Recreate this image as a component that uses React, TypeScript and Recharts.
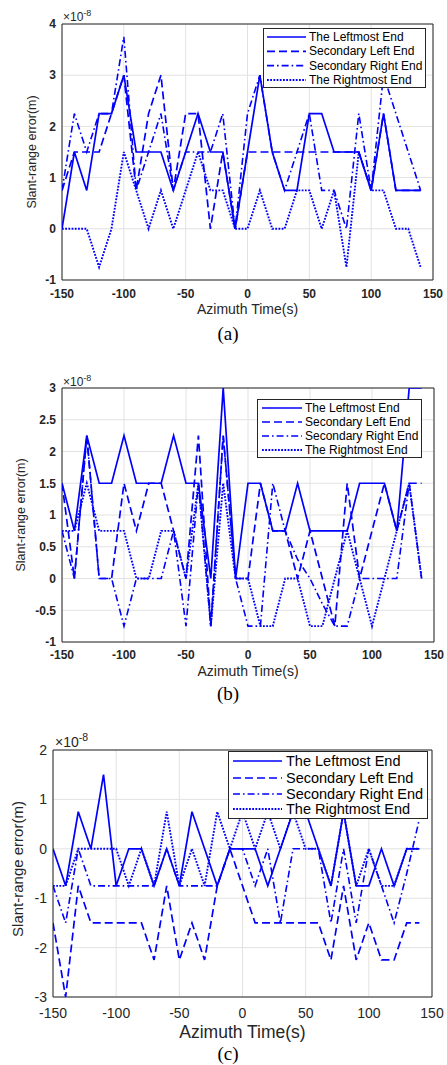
import React from 'react';
import { LineChart, Line, XAxis, YAxis, CartesianGrid, ReferenceArea, Legend } from 'recharts';

// Azimuth time samples (s)
const TIME = [-150, -140, -130, -120, -110, -100, -90, -80, -70, -60, -50, -40, -30, -20, -10, 0, 10, 20, 30, 40, 50, 60, 70, 80, 90, 100, 110, 120, 130, 140];
const X_TICKS = [-150, -100, -50, 0, 50, 100, 150];

// Slant-range error values, in units of 1e-8 m
// (a)
const A_LEFTMOST = [0, 1.5, 0.75, 2.25, 2.25, 3, 1.5, 1.5, 1.5, 0.75, 1.5, 2.25, 1.5, 1.5, 0, 1.5, 3, 1.5, 0.75, 0.75, 2.25, 2.25, 1.5, 1.5, 1.5, 0.75, 2.25, 0.75, 0.75, 0.75];
const A_SECOND_LEFT = [0.75, 1.5, 1.5, 1.5, 2.25, 3, 0.75, 2.25, 3, 0.75, 2.25, 2.25, 0, 1.5, 0, 1.5, 1.5, 1.5, 1.5, 1.5, 1.5, 1.5, 1.5, 1.5, 1.5, 0.75, 2.25, 0.75, 0.75, 0.75];
const A_SECOND_RIGHT = [0.75, 2.25, 1.5, 2.25, 2.25, 3.75, 0.75, 1.5, 2.25, 0.75, 1.5, 1.5, 1.5, 2.25, 0, 2.25, 3, 1.5, 0.75, 1.5, 2.25, 0.75, 0.75, 0, 2.25, 0.75, 3, 2.25, 1.5, 0.75];
const A_RIGHTMOST = [0, 0, 0, -0.75, 0, 1.5, 0.75, 0, 0.75, 0, 0.75, 1.5, 0.75, 0.75, 0, 0, 0.75, 0, 0, 0.75, 0.75, 0, 0.75, -0.75, 1.5, 0.75, 0.75, 0, 0, -0.75];
const A_Y_TICKS = [-1, 0, 1, 2, 3, 4];

// (b)
const B_LEFTMOST = [1.5, 0.75, 2.25, 1.5, 1.5, 2.25, 1.5, 1.5, 1.5, 2.25, 1.5, 1.5, 0, 3, 0, 1.5, 1.5, 0.75, 0.75, 1.5, 0.75, 0.75, 0.75, 0.75, 1.5, 1.5, 1.5, 0.75, 3, 3];
const B_SECOND_LEFT = [1.5, 0, 2.25, 0, 0, 1.5, 0.75, 1.5, 1.5, 0.75, 0, 2.25, -0.75, 2.25, 0, 0, 1.5, 0.75, 0.75, 0, 0.75, 0, -0.75, 1.5, 0, 0.75, 1.5, 0.75, 1.5, 1.5];
const B_SECOND_RIGHT = [0.75, 0, 2.25, 0, 0, -0.75, 0, 0, 0, 0.75, -0.75, 1.5, -0.75, 2.25, 0, -0.75, -0.75, 1.5, 0.75, 0.3, 0, -0.4, -0.75, -0.75, 0, 0, 0, 0, 1.5, 0];
const B_RIGHTMOST = [0.75, 0.75, 1.5, 0.75, 0.75, 0.75, 0, 0, 0.75, 0.75, 0, 1.5, -0.75, 1.5, 0, 0, -0.75, -0.75, 0, 0, -0.75, -0.75, 0, 0.75, 0, -0.75, 0, 0.75, 1.5, 0];
const B_Y_TICKS = [-1, -0.5, 0, 0.5, 1, 1.5, 2, 2.5, 3];

// (c)
const C_LEFTMOST = [0, -0.75, 0.75, 0, 1.5, -0.75, 0, 0, -0.75, 0, -0.75, 0.75, 0, -0.75, 0, 0, 0, -0.75, 0, 0.75, 0.75, 0, -0.75, 0.75, -0.75, -0.75, 0, -0.75, 0, 0];
const C_SECOND_LEFT = [-1.5, -3, -0.75, -1.5, -1.5, -1.5, -1.5, -1.5, -2.25, -0.75, -2.25, -1.5, -2.25, -0.75, 0, -0.75, -1.5, -1.5, -1.5, -1.5, -1.5, -1.5, -2.25, -0.75, -2.25, -1.5, -2.25, -2.25, -1.5, -1.5];
const C_SECOND_RIGHT = [-0.75, -1.5, 0, -0.75, -0.75, -0.75, -0.75, -0.75, -0.75, 0, -0.75, -0.75, -0.75, -0.75, 0, 0, -0.75, 0, -1.5, 0, 0, 0, -1.5, 0, -1.5, 0, -0.75, -1.5, -0.5, 0.6];
const C_RIGHTMOST = [-0.75, -0.75, 0, 0, 0, 0, -0.75, 0, -0.75, 0.75, -0.75, 0, -0.75, 0.75, 0, 0.75, 0, 0.75, 0, 0.75, 0, 0, -0.75, 0.75, -0.75, 0, -0.75, -0.75, 0, 0];
const C_Y_TICKS = [-3, -2, -1, 0, 1, 2];

const SERIES_NAMES = ['The Leftmost End', 'Secondary Left End', 'Secondary Right End', 'The Rightmost End'];
const SERIES_KEYS = ['leftmost', 'secLeft', 'secRight', 'rightmost'];
const DASHES: (string | undefined)[] = [undefined, '8 4', '7 3 1.6 3', '1.8 1.4'];
const WIDTHS = [1.7, 1.7, 1.6, 1.9];
const BLUE = '#0000ff';
const INK = '#262626';
const SANS = '"Liberation Sans", Arial, Helvetica, sans-serif';
const SERIF = '"Liberation Serif", "Times New Roman", serif';

type LegendCfg = { left: number; top: number; width: number; height: number; sx: number; sw: number; tx: number; rows: number[]; font: number };
type PanelCfg = {
  chartTop: number; chartHeight: number;
  plot: { left: number; right: number; top: number; bottom: number };
  series: number[][]; yDomain: [number, number]; yTicks: number[];
  tickFont: number; tickBold: boolean; xTickGap: number;
  legend: LegendCfg;
};

const PANELS: PanelCfg[] = [
  {
    chartTop: 0, chartHeight: 330,
    plot: { left: 62, right: 433, top: 24, bottom: 280 },
    series: [A_LEFTMOST, A_SECOND_LEFT, A_SECOND_RIGHT, A_RIGHTMOST],
    yDomain: [-1, 4], yTicks: A_Y_TICKS,
    tickFont: 12, tickBold: true, xTickGap: 7,
    legend: { left: 263, top: 28, width: 163, height: 60, sx: 4, sw: 39, tx: 46, rows: [9, 23.3, 37.6, 52], font: 12 },
  },
  {
    chartTop: 360, chartHeight: 330,
    plot: { left: 62, right: 434, top: 388, bottom: 642 },
    series: [B_LEFTMOST, B_SECOND_LEFT, B_SECOND_RIGHT, B_RIGHTMOST],
    yDomain: [-1, 3], yTicks: B_Y_TICKS,
    tickFont: 12, tickBold: true, xTickGap: 6,
    legend: { left: 257, top: 399, width: 165, height: 59, sx: 5, sw: 40, tx: 48, rows: [9, 23, 37, 51], font: 12 },
  },
  {
    chartTop: 720, chartHeight: 345,
    plot: { left: 53, right: 432, top: 750, bottom: 997 },
    series: [C_LEFTMOST, C_SECOND_LEFT, C_SECOND_RIGHT, C_RIGHTMOST],
    yDomain: [-3, 2], yTicks: C_Y_TICKS,
    tickFont: 14, tickBold: false, xTickGap: 9,
    legend: { left: 228, top: 751, width: 200, height: 68, sx: 5, sw: 49, tx: 58, rows: [10, 27, 43, 58], font: 14.5 },
  },
];

function LegendBox({ cfg }: { cfg: LegendCfg }) {
  return (
    <svg width={cfg.width} height={cfg.height} style={{ display: 'block' }}>
      <rect x={0.5} y={0.5} width={cfg.width - 1} height={cfg.height - 1} fill="#fff" stroke={INK} strokeWidth={1} />
      {SERIES_NAMES.map((name, i) => (
        <g key={name}>
          <line x1={cfg.sx} x2={cfg.sx + cfg.sw} y1={cfg.rows[i]} y2={cfg.rows[i]} stroke={BLUE} strokeWidth={WIDTHS[i]} strokeDasharray={DASHES[i]} />
          <text x={cfg.tx} y={cfg.rows[i]} dominantBaseline="central" fontSize={cfg.font} fontFamily={SANS} fill="#000">{name}</text>
        </g>
      ))}
    </svg>
  );
}

function Panel({ cfg }: { cfg: PanelCfg }) {
  const data = TIME.map((t, i) => ({
    t,
    leftmost: cfg.series[0][i],
    secLeft: cfg.series[1][i],
    secRight: cfg.series[2][i],
    rightmost: cfg.series[3][i],
  }));
  const yAxisW = 40;
  const xAxisH = 30;
  const margin = {
    top: cfg.plot.top - cfg.chartTop,
    right: 447 - cfg.plot.right,
    left: cfg.plot.left - yAxisW,
    bottom: cfg.chartTop + cfg.chartHeight - cfg.plot.bottom - xAxisH,
  };
  const tickStyle = { fontSize: cfg.tickFont, fontWeight: cfg.tickBold ? 'bold' : 'normal', fill: INK, fontFamily: SANS } as any;
  const lg = cfg.legend;
  return (
    <div style={{ position: 'absolute', left: 0, top: cfg.chartTop, width: 447, height: cfg.chartHeight }}>
      <LineChart width={447} height={cfg.chartHeight} data={data} margin={margin}>
        <CartesianGrid stroke="#e2e2e2" strokeWidth={1} />
        <XAxis dataKey="t" type="number" domain={[-150, 150]} ticks={X_TICKS} interval={0} allowDataOverflow
          axisLine={false} tickLine={false} tickSize={cfg.xTickGap} tickMargin={2} height={xAxisH} tick={tickStyle} />
        <YAxis type="number" domain={cfg.yDomain} ticks={cfg.yTicks} interval={0} allowDataOverflow
          axisLine={false} tickLine={false} tickSize={4} tickMargin={2} width={yAxisW} tick={tickStyle} />
        {SERIES_KEYS.map((k, i) => (
          <Line key={k} type="linear" dataKey={k} name={SERIES_NAMES[i]} stroke={BLUE} strokeWidth={WIDTHS[i]}
            strokeDasharray={DASHES[i]} dot={false} activeDot={false} isAnimationActive={false} />
        ))}
        <ReferenceArea x1={-150} x2={150} y1={cfg.yDomain[0]} y2={cfg.yDomain[1]} fill="none" fillOpacity={0}
          stroke={INK} strokeWidth={1} ifOverflow="visible" />
        <Legend layout="vertical" align="center" verticalAlign="middle"
          wrapperStyle={{ position: 'absolute', left: lg.left, top: lg.top - cfg.chartTop, width: lg.width, height: lg.height }}
          content={() => <LegendBox cfg={lg} />} />
      </LineChart>
    </div>
  );
}

const LABELS = [
  { yLabelX: 31.5, yLabelY: 152, yFont: 12.5, xLabelX: 247.5, xLabelY: 309, xFont: 14, multX: 63, multY: 21, multFont: 12, capY: 333, cap: '(a)' },
  { yLabelX: 21, yLabelY: 515, yFont: 12.5, xLabelX: 248, xLabelY: 671, xFont: 14, multX: 63, multY: 386, multFont: 12, capY: 693, cap: '(b)' },
  { yLabelX: 17, yLabelY: 869, yFont: 15, xLabelX: 242.5, xLabelY: 1032, xFont: 17.5, multX: 55, multY: 747, multFont: 14, capY: 1053, cap: '(c)' },
];

export default function App() {
  return (
    <div style={{ position: 'absolute', left: 0, top: 0, width: 447, height: 1065, background: '#fff', overflow: 'hidden' }}>
      {PANELS.map((p, i) => <Panel key={i} cfg={p} />)}
      <svg width={447} height={1065} style={{ position: 'absolute', left: 0, top: 0, pointerEvents: 'none' }}>
        {LABELS.map((l) => (
          <g key={l.cap}>
            <text x={l.yLabelX} y={l.yLabelY} transform={`rotate(-90 ${l.yLabelX} ${l.yLabelY})`} textAnchor="middle"
              dominantBaseline="central" fontSize={l.yFont} fontFamily={SANS} fill={INK}>Slant-range error(m)</text>
            <text x={l.xLabelX} y={l.xLabelY} textAnchor="middle" dominantBaseline="central" fontSize={l.xFont}
              fontFamily={SANS} fill={INK}>Azimuth Time(s)</text>
            <text x={l.multX} y={l.multY} fontSize={l.multFont} fontFamily={SANS} fill={INK}>
              ×10<tspan fontSize={l.multFont * 0.75} dy={-l.multFont * 0.45}>-8</tspan>
            </text>
            <text x={228} y={l.capY} textAnchor="middle" dominantBaseline="central" fontSize={19} fontFamily={SERIF} fill="#000">{l.cap}</text>
          </g>
        ))}
      </svg>
    </div>
  );
}
